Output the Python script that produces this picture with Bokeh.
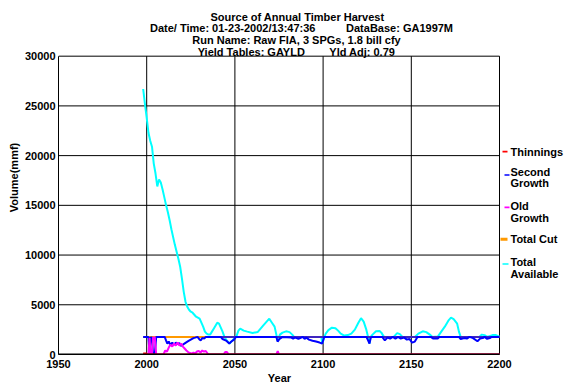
from bokeh.plotting import figure
from bokeh.models import Range1d, FixedTicker
from bokeh.core.properties import value
from bokeh.embed import file_html
from bokeh.resources import INLINE

NB = "\u00a0"
# ---------------- data ----------------
title_lines = [
    "Source of Annual Timber Harvest",
    "Date/ Time: 01-23-2002/13:47:36" + NB * 10 + "DataBase: GA1997M",
    "Run Name: Raw FIA, 3 SPGs, 1.8 bill cfy",
    "Yield Tables: GAYLD" + NB * 8 + "Yld Adj: 0.79",
]
x_ticks = [1950, 2000, 2050, 2100, 2150, 2200]
y_ticks = [0, 5000, 10000, 15000, 20000, 25000, 30000]

avail_years = [1998, 1999, 2000, 2001, 2002, 2003, 2004, 2005, 2006, 2007, 2008, 2009, 2010,
               2011, 2012, 2013, 2014, 2015, 2016, 2017, 2018, 2019, 2020, 2021, 2022, 2023,
               2024, 2025, 2026, 2027, 2028, 2029, 2030, 2031, 2032, 2033, 2034, 2035, 2036,
               2037, 2038, 2039, 2040, 2041, 2042, 2043, 2044, 2045, 2046, 2047, 2048, 2049,
               2050, 2051, 2052, 2053, 2055, 2057, 2060, 2063, 2066, 2068, 2069.5, 2071,
               2072.5, 2073.5, 2074.2, 2075.5, 2077, 2079, 2081, 2082.5, 2083.5, 2099, 2099.5,
               2100.5, 2101.5, 2103, 2105, 2107, 2108.5, 2110, 2112, 2114, 2116, 2118, 2120,
               2121.5, 2123, 2124.5, 2125.5, 2126.3, 2127, 2128, 2130, 2132, 2133, 2134.5,
               2140, 2142, 2143.5, 2145, 2152, 2154, 2156.5, 2158.5, 2160.5, 2162, 2165, 2167,
               2169, 2171, 2172.5, 2174, 2176, 2177, 2178, 2188.5, 2190, 2191.5, 2193, 2196,
               2198, 2200]
avail_vals = [26700, 25200, 23800, 22300, 21500, 20900, 19200, 18200, 16900, 17600, 17300, 16600,
              15800, 15000, 14300, 13500, 12600, 11800, 11000, 10300, 9600, 8800, 7600, 6300,
              5300, 4800, 4500, 4300, 4200, 4000, 3800, 3700, 3600, 3200, 2800, 2300, 2100, 2000,
              2000, 2300, 2600, 2900, 3200, 3100, 2700, 2300, 1800, 1500, 1300, 1100, 1300, 1500,
              1700, 1900, 2400, 2600, 2400, 2300, 2170, 2270, 2900, 3300, 3600, 3200, 2800, 2000,
              1350, 2000, 2200, 2330, 2250, 2000, 1770, 1770, 1100, 1700, 2100, 2450, 2700, 2650,
              2400, 2100, 1900, 1950, 2100, 2500, 3200, 3650, 3300, 2500, 1770, 1100, 1770, 2000,
              2330, 2370, 2200, 1770, 1770, 2150, 2050, 1770, 1770, 2100, 2330, 2250, 2000, 1770,
              1800, 2300, 2800, 3400, 3700, 3550, 3100, 2300, 1770, 1770, 2000, 1950, 1770, 1950,
              1950, 1800]

second_years = [1998, 2001, 2001.6, 2002.2, 2003, 2003.6, 2004.6, 2005.4, 2010.2, 2011, 2011.7,
                2012.5, 2013.6, 2014.5, 2015.5, 2016.5, 2017.5, 2018.5, 2019.3, 2020.5, 2022.2,
                2023.5, 2025, 2026.5, 2027.5, 2028.8, 2030, 2030.7, 2031.5, 2032.6, 2033.5,
                2034.5, 2042, 2043, 2045, 2046.8, 2048, 2049.5, 2050.6, 2073.5, 2074.2, 2075,
                2076, 2077, 2082, 2083, 2084, 2085, 2086, 2087, 2088.5, 2089.5, 2090.5, 2092,
                2094, 2096, 2098, 2099.5, 2100.5, 2101, 2124.5, 2125.3, 2126.3, 2127, 2128,
                2133.5, 2135, 2136.5, 2138, 2139.5, 2141, 2142.5, 2144, 2146, 2147.5, 2149,
                2150.5, 2152, 2153.5, 2161, 2162.5, 2165, 2166, 2177, 2178, 2180, 2181.5, 2183,
                2185, 2187.5, 2189, 2190.5, 2191.5, 2193, 2194.5, 2195.5, 2200]
second_vals = [1770, 1770, 100, 1700, 1700, 50, 50, 1770, 1770, 1400, 1100, 1300, 930, 1200, 1000,
               1200, 1050, 1150, 870, 1000, 1200, 1350, 1500, 1650, 1700, 1770, 1500, 1430, 1650,
               1600, 1750, 1770, 1770, 1560, 1400, 1100, 1300, 1500, 1770, 1770, 1300, 1500, 1650,
               1770, 1700, 1600, 1700, 1650, 1570, 1650, 1770, 1570, 1700, 1500, 1380, 1300, 1200,
               1100, 1700, 1770, 1770, 1500, 1100, 1700, 1770, 1770, 1430, 1700, 1600, 1770, 1600,
               1770, 1600, 1700, 1500, 1550, 1200, 1300, 1770, 1770, 1600, 1600, 1770, 1770, 1550,
               1650, 1600, 1770, 1650, 1330, 1600, 1650, 1770, 1570, 1650, 1770, 1770]

old_years = [1998, 2001, 2001.6, 2002.2, 2003, 2003.6, 2004.6, 2005.4, 2009.5, 2010.5, 2011.5,
             2012.5, 2013.5, 2014.5, 2015.5, 2016.5, 2017.5, 2018.5, 2019.5, 2020.5, 2021.5,
             2022.5, 2023.5, 2024.5, 2025.5, 2026.5, 2027.5, 2028.5, 2029.5, 2030.5, 2031.5,
             2032.5, 2033.5, 2034.5, 2035.5, 2043.5, 2044.5, 2045.5, 2046.5, 2073.5, 2074.3,
             2075, 2200]
old_vals = [0, 0, 1650, 50, 50, 1700, 1700, 0, 0, 400, 300, 700, 1000, 800, 1100, 900, 1200, 900,
            1100, 800, 600, 400, 250, 150, 100, 200, 100, 300, 350, 200, 400, 300, 350, 100, 0, 0,
            250, 250, 0, 0, 350, 0, 0]

cut_years = [1998, 2035, 2200]
cut_vals = [1770, 1770, 1770]

thin_years = [1998, 1999.8, 2000.2, 2200]
thin_vals = [100, 100, 0, 0]

legend_labels = [["Thinnings"], ["Second", "Growth"], ["Old", "Growth"], ["Total Cut"], ["Total", "Available"]]
legend_colors = ["#FF0000", "#0000FF", "#FF00FF", "#FF9900", "#00FFFF"]

# ---------------- layout (page pixels -> data) ----------------
X0, X1 = 1950, 2200
Y0, Y1 = 0, 30000
F_LEFT, F_RIGHT, F_TOP, F_BOT = 58, 499, 56, 356   # plotting box in page pixels
W, H = 564, 386
FONT = "Liberation Sans"


def px2x(px):
    return X0 + (px - F_LEFT) / (F_RIGHT - F_LEFT) * (X1 - X0)


def py2y(py):
    return Y0 + (F_BOT - py) / (F_BOT - F_TOP) * (Y1 - Y0)


# the frame spans the whole canvas right of the y axis and above the x axis,
# so that title and legend (text glyphs) can live inside it
p = figure(width=W, height=H, output_backend="svg", toolbar_location=None,
           x_range=Range1d(X0, px2x(W)), y_range=Range1d(Y0, py2y(0)),
           min_border_left=F_LEFT, min_border_right=0,
           min_border_top=0, min_border_bottom=H - F_BOT)
p.background_fill_color = "white"
p.border_fill_color = "white"
p.outline_line_color = None
p.xgrid.visible = False
p.ygrid.visible = False

for ax in (p.xaxis, p.yaxis):
    ax.axis_line_color = "black"
    ax.major_tick_line_color = None
    ax.minor_tick_line_color = None
    ax.major_tick_out = 0
    ax.major_tick_in = 0
    ax.minor_tick_out = 0
    ax.minor_tick_in = 0
    ax.major_label_text_font = FONT
    ax.major_label_text_font_size = "11px"
    ax.major_label_text_font_style = "bold"
    ax.major_label_text_color = "black"
    ax.axis_label_text_font = FONT
    ax.axis_label_text_font_size = "11px"
    ax.axis_label_text_font_style = "bold"
    ax.axis_label_text_color = "black"
p.xaxis.ticker = FixedTicker(ticks=x_ticks)
p.yaxis.ticker = FixedTicker(ticks=y_ticks)
p.xaxis.bounds = (X0, X1)
p.yaxis.bounds = (Y0, Y1)
p.xaxis.major_label_standoff = 5
p.yaxis.major_label_standoff = 3
p.xaxis.axis_label = "Year" + NB * 21
p.xaxis.axis_label_standoff = 1
p.yaxis.axis_label = "Volume(mmf)"
p.yaxis.axis_label_standoff = 2

# grid lines limited to the plotting box
nx, ny = len(x_ticks), len(y_ticks)
p.segment(x0=x_ticks, y0=[y_ticks[0]] * nx, x1=x_ticks, y1=[y_ticks[-1]] * nx,
          line_color="black", line_width=1)
p.segment(x0=[x_ticks[0]] * ny, y0=y_ticks, x1=[x_ticks[-1]] * ny, y1=y_ticks,
          line_color="black", line_width=1)

# ---------------- series ----------------
p.line(avail_years, avail_vals, line_color="#00FFFF", line_width=2)
p.line(cut_years, cut_vals, line_color="#FF9900", line_width=2)
p.line(cut_years[1:], cut_vals[1:], line_color="#0000FF", line_width=1.5)
p.line(second_years, second_vals, line_color="#0000FF", line_width=2)
p.line(old_years, old_vals, line_color="#FF00FF", line_width=2)
p.line(thin_years, thin_vals, line_color="#FF0000", line_width=2)
# base line over the zero-valued stretches
p.segment(x0=[x_ticks[0]], y0=[y_ticks[0]], x1=[x_ticks[-1]], y1=[y_ticks[0]],
          line_color="black", line_width=2)

# ---------------- title ----------------
title_cx = [297, 301, 296, 296]
title_cy = [16.5, 28, 39.8, 51.4]
p.text(x=[px2x(c) for c in title_cx], y=[py2y(c) for c in title_cy], text=title_lines,
       text_font=value(FONT), text_font_size="11px", text_font_style="bold",
       text_color="black", text_align="center", text_baseline="middle")

# ---------------- legend ----------------
seg_py = [152, 175.5, 208, 240, 265]
seg_x = [(502, 507), (504, 509), (504, 509), (500, 507), (502, 508)]
seg_w = [1.6, 1.6, 1.6, 3, 1.6]
text_py = [[152], [172, 184], [206.5, 219], [240], [262.5, 275.5]]
p.segment(x0=[px2x(a) for a, b in seg_x], x1=[px2x(b) for a, b in seg_x],
          y0=[py2y(v) for v in seg_py], y1=[py2y(v) for v in seg_py],
          line_color=legend_colors, line_width=seg_w)
lx, ly, lt = [], [], []
for labs, tpys in zip(legend_labels, text_py):
    for lab, tpy in zip(labs, tpys):
        lx.append(px2x(510))
        ly.append(py2y(tpy))
        lt.append(lab)
p.text(x=lx, y=ly, text=lt, text_font=value(FONT), text_font_size="11px",
       text_font_style="bold", text_color="black", text_align="left", text_baseline="middle")

open("out.html", "w").write(file_html(p, INLINE))
